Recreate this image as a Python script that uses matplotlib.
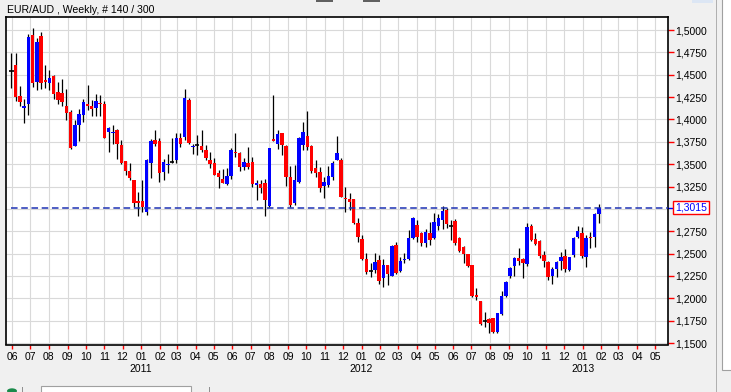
import matplotlib
matplotlib.use("Agg")
import numpy as np
import pandas as pd
import matplotlib.pyplot as plt
import matplotlib.dates as mdates
import matplotlib.transforms as mtrans
from matplotlib.patches import Rectangle, Circle
from matplotlib.ticker import FuncFormatter

# EUR/AUD weekly candles
opens = [1.4540, 1.4608, 1.4260, 1.4129, 1.4178, 1.4944, 1.4421, 1.4936, 1.4439, 1.4402,
         1.4484, 1.4309, 1.4297, 1.4148, 1.4084, 1.3707, 1.3935, 1.4047, 1.4178, 1.4148,
         1.4129, 1.4185, 1.4170, 1.3860, 1.3850, 1.3879, 1.3711, 1.3531, 1.3419, 1.3326,
         1.3083, 1.3083, 1.2963, 1.3513, 1.3767, 1.3756, 1.3412, 1.3495, 1.3528, 1.3547,
         1.3796, 1.3807, 1.4217, 1.3694, 1.3714, 1.3703, 1.3658, 1.3547, 1.3517, 1.3397,
         1.3334, 1.3278, 1.3368, 1.3629, 1.3621, 1.3472, 1.3517, 1.3524, 1.3267, 1.3275,
         1.3286, 1.3032, 1.3781, 1.3725, 1.3845, 1.3703, 1.3360, 1.3062, 1.3304, 1.3714,
         1.3819, 1.3707, 1.3461, 1.3416, 1.3256, 1.3267, 1.3353, 1.3547, 1.3547, 1.3118,
         1.3111, 1.3111, 1.2846, 1.2660, 1.2440, 1.2302, 1.2317, 1.2429, 1.2223, 1.2373,
         1.2250, 1.2596, 1.2309, 1.2433, 1.2436, 1.2671, 1.2820, 1.2727, 1.2622, 1.2734,
         1.2671, 1.2809, 1.2876, 1.2988, 1.2805, 1.2868, 1.2671, 1.2578, 1.2496, 1.2372,
         1.2037, 1.1970, 1.1743, 1.1773, 1.1784, 1.1627, 1.1825, 1.2026, 1.2250, 1.2361,
         1.2447, 1.2436, 1.2384, 1.2809, 1.2663, 1.2645, 1.2484, 1.2410, 1.2250, 1.2328,
         1.2417, 1.2473, 1.2317, 1.2484, 1.2689, 1.2734, 1.2466, 1.2686, 1.2689, 1.2945]
highs = [1.4740, 1.4739, 1.4372, 1.4223, 1.4955, 1.5019, 1.4907, 1.4974, 1.4608, 1.4552,
         1.4496, 1.4421, 1.4451, 1.4335, 1.4111, 1.3991, 1.4122, 1.4234, 1.4383, 1.4215,
         1.4279, 1.4271, 1.4204, 1.3916, 1.3935, 1.3898, 1.3767, 1.3531, 1.3513, 1.3326,
         1.3188, 1.3326, 1.3561, 1.3786, 1.3879, 1.3793, 1.3561, 1.3614, 1.3796, 1.3852,
         1.3852, 1.4340, 1.4236, 1.3725, 1.3826, 1.3882, 1.3714, 1.3640, 1.3565, 1.3435,
         1.3442, 1.3453, 1.3677, 1.3845, 1.3640, 1.3565, 1.3696, 1.3576, 1.3323, 1.3323,
         1.3330, 1.3685, 1.4273, 1.3882, 1.3852, 1.3714, 1.3479, 1.3491, 1.3807, 1.3975,
         1.4094, 1.3714, 1.3547, 1.3472, 1.3360, 1.3479, 1.3539, 1.3815, 1.3565, 1.3241,
         1.3181, 1.3111, 1.2894, 1.2708, 1.2503, 1.2399, 1.2503, 1.2484, 1.2436, 1.2373,
         1.2596, 1.2633, 1.2458, 1.2503, 1.2764, 1.2913, 1.2876, 1.2745, 1.2771, 1.2857,
         1.2950, 1.2943, 1.3032, 1.3006, 1.2876, 1.2883, 1.2682, 1.2585, 1.2496, 1.2372,
         1.2112, 1.1970, 1.1851, 1.1776, 1.1784, 1.1840, 1.2082, 1.2197, 1.2346, 1.2466,
         1.2559, 1.2454, 1.2838, 1.2827, 1.2734, 1.2652, 1.2533, 1.2421, 1.2354, 1.2417,
         1.2522, 1.2555, 1.2466, 1.2689, 1.2809, 1.2794, 1.2708, 1.2745, 1.2958, 1.3055]
lows = [1.4346, 1.4204, 1.4148, 1.3961, 1.4047, 1.4365, 1.4327, 1.4335, 1.4346, 1.4327,
        1.4223, 1.4178, 1.4148, 1.3991, 1.3673, 1.3700, 1.3759, 1.3972, 1.4103, 1.4036,
        1.4036, 1.4036, 1.3797, 1.3636, 1.3722, 1.3561, 1.3505, 1.3374, 1.3318, 1.3020,
        1.2915, 1.2963, 1.2926, 1.3348, 1.3700, 1.3300, 1.3318, 1.3398, 1.3509, 1.3517,
        1.3696, 1.3770, 1.3725, 1.3614, 1.3602, 1.3640, 1.3547, 1.3453, 1.3379, 1.3230,
        1.3286, 1.3267, 1.3330, 1.3584, 1.3427, 1.3435, 1.3442, 1.3248, 1.3099, 1.3174,
        1.2920, 1.3025, 1.3759, 1.3666, 1.3602, 1.3256, 1.3025, 1.3043, 1.3286, 1.3658,
        1.3658, 1.3397, 1.3360, 1.3192, 1.3118, 1.3248, 1.3323, 1.3547, 1.3129, 1.2969,
        1.2988, 1.2831, 1.2633, 1.2428, 1.2272, 1.2235, 1.2279, 1.2160, 1.2130, 1.2149,
        1.2250, 1.2272, 1.2298, 1.2391, 1.2429, 1.2660, 1.2633, 1.2585, 1.2577, 1.2596,
        1.2660, 1.2764, 1.2771, 1.2782, 1.2652, 1.2596, 1.2522, 1.2391, 1.2346, 1.2019,
        1.1981, 1.1705, 1.1683, 1.1609, 1.1616, 1.1616, 1.1813, 1.2019, 1.2224, 1.2250,
        1.2373, 1.2224, 1.2361, 1.2645, 1.2596, 1.2447, 1.2354, 1.2205, 1.2160, 1.2235,
        1.2317, 1.2298, 1.2309, 1.2466, 1.2678, 1.2447, 1.2354, 1.2559, 1.2578, 1.2838]
closes = [1.4540, 1.4253, 1.4197, 1.4148, 1.4918, 1.4402, 1.4865, 1.4410, 1.4421, 1.4466,
          1.4290, 1.4215, 1.4197, 1.4073, 1.3685, 1.3935, 1.4066, 1.4197, 1.4148, 1.4122,
          1.4204, 1.4174, 1.3797, 1.3905, 1.3856, 1.3722, 1.3513, 1.3423, 1.3345, 1.3064,
          1.3064, 1.3020, 1.3543, 1.3756, 1.3729, 1.3401, 1.3520, 1.3500, 1.3528, 1.3796,
          1.3722, 1.4243, 1.3740, 1.3698, 1.3714, 1.3658, 1.3573, 1.3498, 1.3379, 1.3353,
          1.3293, 1.3371, 1.3658, 1.3621, 1.3472, 1.3520, 1.3472, 1.3275, 1.3286, 1.3230,
          1.3099, 1.3677, 1.3759, 1.3837, 1.3714, 1.3360, 1.3043, 1.3323, 1.3796, 1.3863,
          1.3696, 1.3427, 1.3405, 1.3230, 1.3304, 1.3368, 1.3517, 1.3629, 1.3129, 1.3107,
          1.3081, 1.2846, 1.2682, 1.2440, 1.2298, 1.2302, 1.2410, 1.2197, 1.2373, 1.2272,
          1.2589, 1.2287, 1.2421, 1.2438, 1.2678, 1.2902, 1.2689, 1.2615, 1.2745, 1.2652,
          1.2857, 1.2902, 1.2980, 1.2831, 1.2805, 1.2622, 1.2529, 1.2492, 1.2361, 1.2026,
          1.2019, 1.1713, 1.1743, 1.1728, 1.1627, 1.1832, 1.2026, 1.2186, 1.2335, 1.2454,
          1.2417, 1.2399, 1.2801, 1.2652, 1.2607, 1.2473, 1.2417, 1.2242, 1.2328, 1.2410,
          1.2466, 1.2324, 1.2466, 1.2678, 1.2756, 1.2473, 1.2671, 1.2678, 1.2943, 1.3015]
last_price = 1.3015
price_levels = [1.15, 1.175, 1.20, 1.225, 1.25, 1.275, 1.30, 1.325, 1.35,
                1.375, 1.40, 1.425, 1.45, 1.475, 1.50]
year_labels = ["2011", "2012", "2013"]

dates = pd.date_range("2010-05-31", periods=len(opens), freq="7D")
x = mdates.date2num(dates)
o = np.array(opens); h = np.array(highs); l = np.array(lows); c = np.array(closes)

plt.rcParams["font.family"] = ["Liberation Sans", "DejaVu Sans"]

fig = plt.figure(figsize=(7.31, 3.92), dpi=100, facecolor="#f0f0f0")
ax = fig.add_axes([6 / 731, 1 - 344.5 / 392, 661.7 / 731, 327.2 / 392])
ax.set_facecolor("white")

# grid
for lv in price_levels:
    ax.axhline(lv, color="#d9d9d9", lw=0.8, zorder=0)
ax.xaxis.set_major_locator(mdates.MonthLocator())
ax.xaxis.set_major_formatter(mdates.DateFormatter("%m"))
ax.grid(axis="x", color="#d9d9d9", lw=0.8, zorder=0)

# candles
doji = o == c
up = c > o
colors = np.where(up, "#0000ff", "#ff0000")
bottoms = np.minimum(o, c)
heights = np.maximum(np.abs(c - o), 0.0012)
ax.vlines(x, l, h, color="black", lw=0.9, zorder=2)
ax.bar(x[~doji], heights[~doji], bottom=bottoms[~doji], width=5.7,
       color=colors[~doji], linewidth=0, zorder=3)
ax.hlines(o[doji], x[doji] - 3.5, x[doji] + 3.5, color="black", lw=1.2, zorder=3)

xmin = mdates.date2num(pd.Timestamp("2010-05-22"))
xmax = mdates.date2num(pd.Timestamp("2013-05-22"))
ax.set_xlim(xmin, xmax)
ax.set_ylim(1.14836, 1.5142)

# last price line
ax.hlines(last_price, x[0], xmax, color="#1e32b4", lw=1.1,
          linestyle=(0, (4.3, 2.4)), zorder=4)

# axes styling
ax.yaxis.tick_right()
ax.set_yticks([v for v in price_levels if abs(v - 1.30) > 1e-9])
ax.yaxis.set_major_formatter(FuncFormatter(lambda v, p: f"{v:.4f}".replace(".", ",")))
ax.tick_params(axis="y", color="red", labelcolor="black", length=4, width=1,
               pad=1.5, labelsize=7.5)
ax.tick_params(axis="x", color="red", labelcolor="black", length=3, width=1,
               pad=2.5, labelsize=7.5)
for s in ax.spines.values():
    s.set_color("black")
    s.set_linewidth(1.2)

# price tag
tr = mtrans.blended_transform_factory(ax.transAxes, ax.transData)
ax.plot([1.0, 1.008], [last_price, last_price], color="#0000ff", lw=1,
        transform=tr, clip_on=False)
ax.text(1.0115, last_price, f"{last_price:.4f}".replace(".", ","), transform=tr,
        color="#0000ff", fontsize=7.5, ha="left", va="center",
        bbox=dict(boxstyle="square,pad=0.18", fc="white", ec="red", lw=1))

# years under January
ty = mtrans.blended_transform_factory(ax.transData, fig.transFigure)
for yr in year_labels:
    ax.text(mdates.date2num(pd.Timestamp(f"{yr}-01-01")), 1 - 369 / 392, yr,
            transform=ty, ha="center", va="center", fontsize=7.5, clip_on=False)

fig.text(7 / 731, 1 - 10 / 392, "EUR/AUD , Weekly, # 140 / 300", fontsize=7.6,
         ha="left", va="center")

# window chrome
W, H = 731, 392
def frect(x0, y0, w, hh, **kw):
    fig.patches.append(Rectangle((x0 / W, 1 - (y0 + hh) / H), w / W, hh / H,
                                 transform=fig.transFigure, **kw))
frect(716, 0, 1, 392, fc="#b0b0b0", ec="none")
frect(722, -2, 12, 372, fc="white", ec="#a0a0a0", lw=0.8)
frect(692, 0, 21, 3, fc="#dce6f4", ec="none")
frect(316, -1, 17, 2.5, fc="#606060", ec="none")
frect(363, -1, 17, 2.5, fc="#606060", ec="none")
frect(41, 386, 150, 8, fc="white", ec="#a0a0a0", lw=0.8)
frect(22, 387, 0.8, 6, fc="#909090", ec="none")
frect(209, 387, 0.8, 6, fc="#909090", ec="none")
fig.patches.append(Circle((12 / W, 1 - 391 / H), 5 / W, transform=fig.transFigure,
                          fc="#1a8a4a", ec="none"))

fig.savefig("out.png", dpi=100, facecolor=fig.get_facecolor())
